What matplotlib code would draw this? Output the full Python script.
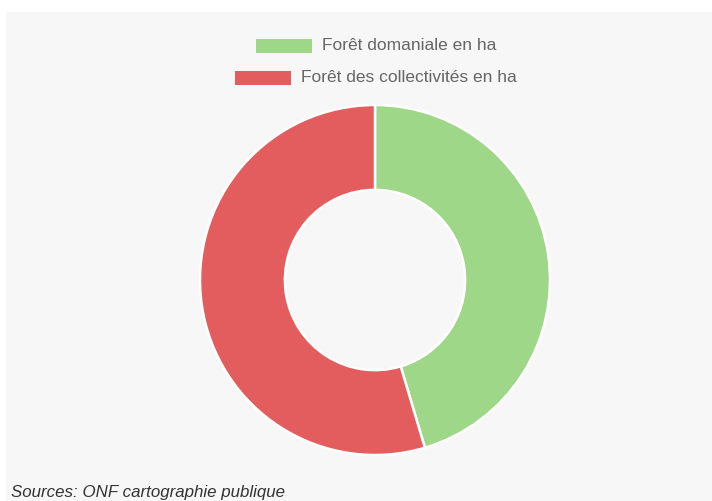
import matplotlib
matplotlib.use("Agg")
import matplotlib.pyplot as plt
from matplotlib.patches import Rectangle

labels = ["Forêt domaniale en ha", "Forêt des collectivités en ha"]
shares = [45.4, 54.6]
colors = ["#9ed787", "#e35d5e"]
source = "Sources: ONF cartographie publique"

W, H = 712, 501
plt.rcParams['font.family'] = ['Liberation Sans', 'DejaVu Sans']
fig = plt.figure(figsize=(W / 100, H / 100), dpi=100)
fig.patch.set_facecolor("white")

# light grey panel behind everything
fig.add_artist(Rectangle((6 / W, 0), 1 - 6 / W, 1 - 12 / H,
                         transform=fig.transFigure, facecolor="#f7f7f7",
                         edgecolor="none", zorder=0))

# donut
cx, cy, r = 375, 280, 175
ax = fig.add_axes([(cx - r) / W, (H - cy - r) / H, 2 * r / W, 2 * r / H])
ax.pie(shares, colors=colors, startangle=90, counterclock=False,
       radius=1, wedgeprops=dict(width=0.485, edgecolor="white", linewidth=1.8))
ax.set_aspect("equal")
ax.set_xlim(-1, 1)
ax.set_ylim(-1, 1)
ax.axis("off")

# legend, one centred row per entry
fig.canvas.draw()
renderer = fig.canvas.get_renderer()
box_w, box_h, gap = 56, 14, 10
rows_y = [46, 78]
for lab, col, yy in zip(labels, colors, rows_y):
    t = fig.text(0, 1 - yy / H, lab, fontsize=12.5, color="#666666",
                 va="center", ha="left")
    tw = t.get_window_extent(renderer).width
    total = box_w + gap + tw
    x0 = 376 - total / 2
    fig.add_artist(Rectangle((x0 / W, 1 - (yy + box_h / 2) / H), box_w / W, box_h / H,
                             transform=fig.transFigure, facecolor=col,
                             edgecolor="none", zorder=2))
    t.set_x((x0 + box_w + gap) / W)

fig.text(11 / W, 1 - 492 / H, source, fontsize=12.2, style="italic",
         color="#333333", va="center", ha="left")

fig.savefig("out.png", dpi=100, facecolor=fig.get_facecolor())
